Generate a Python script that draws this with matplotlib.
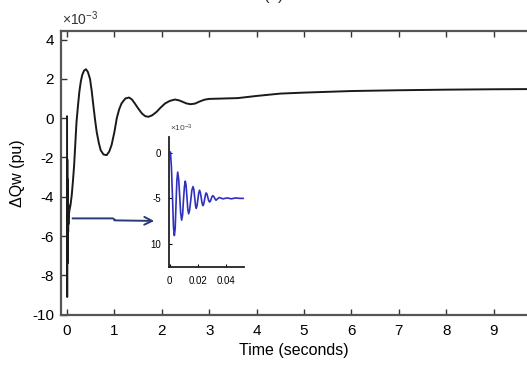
import matplotlib
matplotlib.use("Agg")
import matplotlib.pyplot as plt

plt.rcParams['font.family'] = ['Liberation Sans', 'DejaVu Sans']
plt.rcParams['mathtext.fontset'] = 'custom'
plt.rcParams['mathtext.rm'] = 'Liberation Sans'
plt.rcParams['mathtext.it'] = 'Liberation Sans'

# ---- data (values in units of 1e-3 pu) ----
main_t = [0.0, 0.0005, 0.0033, 0.0057, 0.0085, 0.0111, 0.0135, 0.0166, 0.0189, 0.0213,
          0.0237, 0.026, 0.0284, 0.0308, 0.035,
          0.05, 0.075, 0.10, 0.125, 0.15, 0.175, 0.20, 0.23, 0.26, 0.29, 0.32, 0.36,
          0.40, 0.44, 0.485, 0.52, 0.555, 0.59, 0.626, 0.67, 0.71, 0.77, 0.837, 0.89,
          0.94, 1.0, 1.05, 1.1, 1.15, 1.23, 1.31, 1.37, 1.43, 1.5, 1.58, 1.65,
          1.72, 1.8, 1.89, 1.98, 2.07, 2.17, 2.28, 2.37, 2.45, 2.52, 2.6, 2.7,
          2.8, 2.9, 3.0, 3.3, 3.6, 4.0, 4.5, 5.0, 5.5, 6.0, 7.0, 8.0, 9.0, 9.8]
main_v = [0.0, 0.1, -9.1, -2.1, -7.4, -3.1, -6.7, -3.7, -6.1, -4.1,
          -5.8, -4.4, -5.4, -4.7, -5.0,
          -4.7, -4.4, -3.9, -3.2, -2.4, -1.3, -0.2, 0.6, 1.34, 1.85, 2.19, 2.42,
          2.49, 2.35, 2.0, 1.4, 0.66, -0.05, -0.7, -1.25, -1.63, -1.85, -1.88, -1.7,
          -1.37, -0.7, 0.0, 0.45, 0.75, 1.0, 1.05, 0.95, 0.75, 0.5, 0.24, 0.1,
          0.07, 0.15, 0.32, 0.55, 0.75, 0.88, 0.95, 0.9, 0.82, 0.75, 0.71, 0.74,
          0.85, 0.94, 0.98, 1.0, 1.02, 1.13, 1.25, 1.3, 1.34, 1.38, 1.42, 1.45, 1.47, 1.48]

inset_t = [0.0005, 0.0012, 0.002, 0.0027, 0.0033, 0.0039, 0.0045, 0.0051, 0.0057, 0.0064,
           0.0071, 0.0078, 0.0085, 0.0092, 0.0098, 0.0105, 0.0111, 0.0117, 0.0123, 0.0129,
           0.0135, 0.0142, 0.015, 0.0158, 0.0166, 0.0172, 0.0178, 0.0184, 0.0189, 0.0195,
           0.0201, 0.0207, 0.0213, 0.0219, 0.0225, 0.0231, 0.0237, 0.0243, 0.0249, 0.0255,
           0.026, 0.0266, 0.0272, 0.0278, 0.0284, 0.029, 0.0296, 0.0302, 0.0308, 0.0314,
           0.032, 0.0326, 0.0331, 0.034, 0.0355, 0.037, 0.038, 0.041, 0.044, 0.047,
           0.050, 0.053]
inset_v = [0.1, -1.5, -5.0, -8.2, -9.1, -8.3, -5.6, -3.0, -2.1, -2.9,
           -4.7, -6.6, -7.4, -6.8, -5.2, -3.7, -3.1, -3.6, -4.9, -6.2,
           -6.7, -6.3, -5.2, -4.1, -3.7, -4.0, -4.9, -5.8, -6.1, -5.8,
           -5.1, -4.4, -4.1, -4.4, -4.95, -5.55, -5.8, -5.6, -5.1, -4.6,
           -4.4, -4.55, -4.9, -5.25, -5.4, -5.3, -5.05, -4.8, -4.7, -4.8,
           -4.95, -5.15, -5.2, -5.05, -4.9, -5.0, -5.05, -4.95, -5.05, -4.95,
           -5.0, -5.0]

main_xticks = [0, 1, 2, 3, 4, 5, 6, 7, 8, 9]
main_yticks = [4, 2, 0, -2, -4, -6, -8, -10]
inset_xticks = [0, 0.02, 0.04]
inset_xticklabels = ["0", "0.02", "0.04"]
inset_yticks = [0, -5, -10]
inset_yticklabels = ["0", "-5", "10"]

W, H = 527, 372
fig = plt.figure(figsize=(W / 100, H / 100), dpi=100)

# main axes
ax = fig.add_axes([61 / W, 1 - 314.7 / H, (W - 61) / W, (314.7 - 30.7) / H])
ax.plot(main_t, main_v, color='#1a1a1a', lw=1.4)
ax.set_xlim(-0.127, 9.705)
ax.set_ylim(-10, 4.45)
ax.set_xticks(main_xticks)
ax.set_yticks(main_yticks)
ax.set_yticklabels([str(v) for v in main_yticks])
ax.tick_params(direction='in', length=4, width=1, color='#333333', labelsize=11,
               top=True, pad=7)
ax.tick_params(axis='y', pad=5)
for s in ['left', 'bottom', 'top']:
    ax.spines[s].set_linewidth(1.6)
    ax.spines[s].set_color('#555555')
ax.spines['right'].set_visible(False)
ax.set_xlabel('Time (seconds)', fontsize=11.5, labelpad=3)
ax.set_ylabel('ΔQw (pu)', fontsize=11.5)
ax.yaxis.set_label_coords(-0.077, 0.5)
fig.text(62 / W, 1 - 19 / H, r'$\times10^{-3}$', fontsize=10, color='#333333',
         ha='left', va='center')

# title "(c)" cut off at top, as in the reference
fig.text(274 / W, 1.0, '(c)', fontsize=12, ha='center', va='baseline', color='#333333')

# arrow from main curve to inset
arrow_col = '#2a3a78'
ax.plot([0.10, 0.97, 1.02], [-5.1, -5.1, -5.2], color=arrow_col, lw=1.4,
        solid_capstyle='butt')
ax.annotate('', xy=(1.84, -5.23), xytext=(1.0, -5.2),
            arrowprops=dict(arrowstyle='->', color=arrow_col, lw=1.4,
                            mutation_scale=14, shrinkA=0, shrinkB=0))

# inset axes
axi = fig.add_axes([169.3 / W, 1 - 267.3 / H, 75 / W, 130.6 / H])
axi.plot(inset_t, inset_v, color='#2f2fc0', lw=1.2)
axi.set_xlim(-0.0003, 0.0532)
axi.set_ylim(-12.6, 1.8)
axi.set_xticks(inset_xticks)
axi.set_xticklabels(inset_xticklabels)
axi.set_yticks(inset_yticks)
axi.set_yticklabels(inset_yticklabels)
axi.tick_params(direction='in', length=2, width=0.8, labelsize=7, pad=6)
for s in ['right', 'top']:
    axi.spines[s].set_visible(False)
for s in ['left', 'bottom']:
    axi.spines[s].set_linewidth(1.3)
    axi.spines[s].set_color('#222222')
axi.patch.set_alpha(0)
fig.text(170 / W, 1 - 128 / H, r'$\times10^{-3}$', fontsize=6, color='#444444',
         ha='left', va='center')

fig.savefig('out.png', dpi=100)
